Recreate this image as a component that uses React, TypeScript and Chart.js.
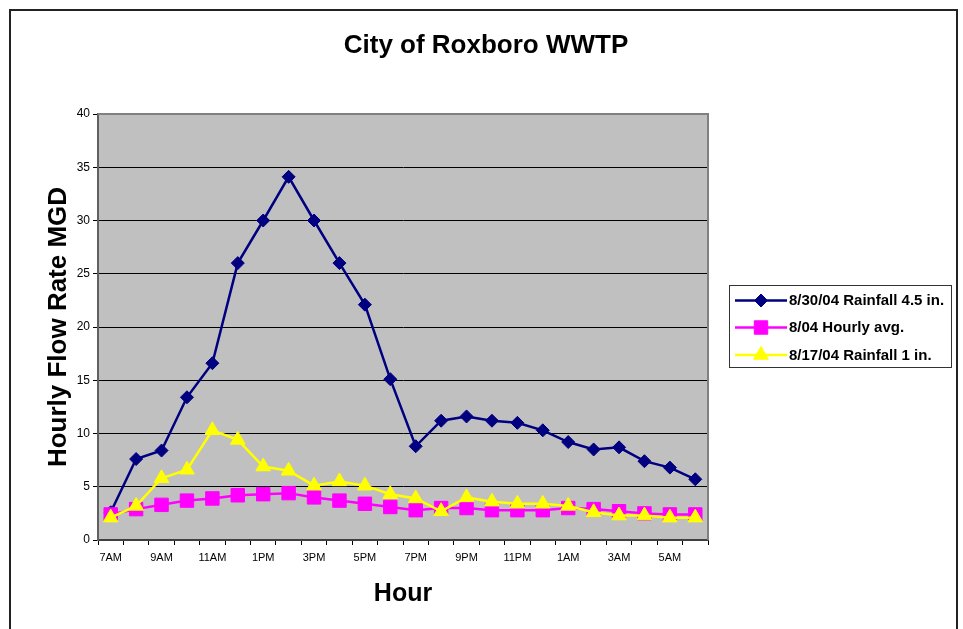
import React, { useEffect, useRef } from 'react';
import { Chart, registerables } from 'chart.js';

Chart.register(...registerables);

// ---- data ----
const hours = ['7AM', '8AM', '9AM', '10AM', '11AM', '12PM', '1PM', '2PM', '3PM', '4PM', '5PM', '6PM',
  '7PM', '8PM', '9PM', '10PM', '11PM', '12AM', '1AM', '2AM', '3AM', '4AM', '5AM', '6AM'];
const shownHourLabels = ['7AM', '9AM', '11AM', '1PM', '3PM', '5PM', '7PM', '9PM', '11PM', '1AM', '3AM', '5AM'];

const rain830 = [2.6, 7.6, 8.4, 13.4, 16.6, 26.0, 30.0, 34.1, 30.0, 26.0, 22.1, 15.1,
  8.8, 11.2, 11.6, 11.2, 11.0, 10.3, 9.2, 8.5, 8.7, 7.4, 6.8, 5.7];
const hourlyAvg = [2.4, 2.9, 3.3, 3.7, 3.9, 4.2, 4.3, 4.4, 4.0, 3.7, 3.4, 3.1,
  2.8, 3.0, 3.0, 2.8, 2.8, 2.8, 3.0, 2.9, 2.7, 2.5, 2.4, 2.4];
const rain817 = [2.1, 3.2, 5.8, 6.6, 10.3, 9.4, 6.9, 6.5, 5.1, 5.5, 5.1, 4.3,
  3.9, 2.7, 4.0, 3.6, 3.4, 3.4, 3.2, 2.6, 2.3, 2.3, 2.1, 2.1];

const seriesLabels = ['8/30/04 Rainfall 4.5 in.', '8/04 Hourly avg.', '8/17/04 Rainfall 1 in.'];
const chartTitle = 'City of Roxboro WWTP';
const yTitle = 'Hourly Flow Rate MGD';
const xTitle = 'Hour';
const yMin = 0;
const yMax = 40;
const yStep = 5;

const FONT = '"Liberation Sans", Arial, Helvetica, sans-serif';

function drawMarker(ctx: CanvasRenderingContext2D, style: string, x: number, y: number, r: number, color: string) {
  ctx.save();
  ctx.fillStyle = color;
  ctx.strokeStyle = color;
  ctx.lineWidth = 1;
  ctx.beginPath();
  if (style === 'rectRot') {
    ctx.moveTo(x, y - r);
    ctx.lineTo(x + r, y);
    ctx.lineTo(x, y + r);
    ctx.lineTo(x - r, y);
  } else if (style === 'rect') {
    const s = Math.SQRT1_2 * r;
    ctx.rect(x - s, y - s, 2 * s, 2 * s);
  } else {
    ctx.moveTo(x, y - r);
    ctx.lineTo(x + Math.sin((2 * Math.PI) / 3) * r, y - Math.cos((2 * Math.PI) / 3) * r);
    ctx.lineTo(x + Math.sin((4 * Math.PI) / 3) * r, y - Math.cos((4 * Math.PI) / 3) * r);
  }
  ctx.closePath();
  ctx.fill();
  ctx.stroke();
  ctx.restore();
}

const decorPlugin = {
  id: 'decor',
  beforeDraw(chart: any) {
    const { ctx, chartArea, width, height } = chart;
    ctx.save();
    ctx.fillStyle = '#ffffff';
    ctx.fillRect(0, 0, width, height);
    // outer frame
    ctx.strokeStyle = '#222222';
    ctx.lineWidth = 2;
    ctx.strokeRect(10, 10, 947, height + 20);
    // plot background
    ctx.fillStyle = '#C0C0C0';
    ctx.fillRect(chartArea.left, chartArea.top, chartArea.right - chartArea.left, chartArea.bottom - chartArea.top);
    ctx.restore();
  },
  beforeDatasetsDraw(chart: any) {
    const { ctx, chartArea } = chart;
    ctx.save();
    ctx.strokeStyle = '#808080';
    ctx.lineWidth = 2;
    ctx.beginPath();
    ctx.moveTo(chartArea.left, chartArea.top);
    ctx.lineTo(chartArea.right, chartArea.top);
    ctx.lineTo(chartArea.right, chartArea.bottom);
    ctx.stroke();
    ctx.restore();
  },
  afterDraw(chart: any) {
    const { ctx } = chart;
    ctx.save();
    // title
    ctx.fillStyle = '#000000';
    ctx.font = `bold 26px ${FONT}`;
    ctx.textAlign = 'center';
    ctx.textBaseline = 'middle';
    ctx.fillText(chartTitle, 486, 46);

    // legend
    const bx = 729, by = 285, bw = 222, bh = 82;
    ctx.fillStyle = '#ffffff';
    ctx.fillRect(bx, by, bw, bh);
    ctx.strokeStyle = '#333333';
    ctx.lineWidth = 1;
    ctx.strokeRect(bx + 0.5, by + 0.5, bw, bh);
    const rows = [300.5, 327.5, 355];
    chart.data.datasets.forEach((ds: any, i: number) => {
      const y = rows[i];
      ctx.strokeStyle = ds.borderColor;
      ctx.lineWidth = ds.borderWidth;
      ctx.beginPath();
      ctx.moveTo(735, y);
      ctx.lineTo(787, y);
      ctx.stroke();
      drawMarker(ctx, ds.pointStyle, 761, y, ds.pointRadius, ds.pointBackgroundColor);
      ctx.fillStyle = '#000000';
      ctx.font = `bold 15px ${FONT}`;
      ctx.textAlign = 'left';
      ctx.textBaseline = 'middle';
      ctx.fillText(ds.label, 789, y + 0.5);
    });
    ctx.restore();
  },
};

export default function App() {
  const ref = useRef<HTMLCanvasElement>(null);

  useEffect(() => {
    if (!ref.current) return;
    Chart.defaults.font.family = FONT;
    Chart.defaults.color = '#000000';
    const chart = new Chart(ref.current, {
      type: 'line',
      data: {
        labels: hours,
        datasets: [
          {
            label: seriesLabels[0],
            data: rain830,
            borderColor: '#000080',
            backgroundColor: '#000080',
            pointBackgroundColor: '#000080',
            pointBorderColor: '#000080',
            borderWidth: 2.5,
            pointStyle: 'rectRot',
            pointRadius: 6.5,
            pointBorderWidth: 1,
            tension: 0,
            order: 2,
          },
          {
            label: seriesLabels[1],
            data: hourlyAvg,
            borderColor: '#FF00FF',
            backgroundColor: '#FF00FF',
            pointBackgroundColor: '#FF00FF',
            pointBorderColor: '#FF00FF',
            borderWidth: 2.5,
            pointStyle: 'rect',
            pointRadius: 9.5,
            pointBorderWidth: 1,
            tension: 0,
            order: 1,
          },
          {
            label: seriesLabels[2],
            data: rain817,
            borderColor: '#FFFF00',
            backgroundColor: '#FFFF00',
            pointBackgroundColor: '#FFFF00',
            pointBorderColor: '#FFFF00',
            borderWidth: 2.5,
            pointStyle: 'triangle',
            pointRadius: 8.5,
            pointBorderWidth: 1,
            tension: 0,
            order: 0,
          },
        ],
      },
      options: {
        animation: false,
        responsive: false,
        maintainAspectRatio: false,
        devicePixelRatio: 1,
        layout: { padding: { left: 0, top: 114, right: 255, bottom: 0 } },
        plugins: {
          legend: { display: false },
          title: { display: false },
          tooltip: { enabled: false },
        },
        scales: {
          x: {
            type: 'category',
            offset: true,
            afterFit: (scale: any) => { scale.height = 89; },
            grid: {
              offset: true,
              drawOnChartArea: false,
              drawTicks: true,
              tickLength: 5,
              color: '#000000',
              tickColor: '#000000',
            },
            border: { display: true, color: '#404040', width: 2 },
            ticks: {
              autoSkip: false,
              maxRotation: 0,
              padding: 6,
              font: { size: 11 },
              color: '#000000',
              callback: function (this: any, value: any) {
                const lbl = this.getLabelForValue(value);
                return shownHourLabels.includes(lbl) ? lbl : '';
              },
            },
            title: {
              display: true,
              text: xTitle,
              font: { size: 25, weight: 'bold' },
              color: '#000000',
              padding: { top: 0, bottom: 20 },
            },
          },
          y: {
            min: yMin,
            max: yMax,
            afterFit: (scale: any) => { scale.width = 98; },
            grid: {
              color: '#000000',
              tickColor: '#000000',
              lineWidth: 1,
              drawTicks: true,
              tickLength: 5,
            },
            border: { display: true, color: '#606060', width: 2 },
            ticks: {
              stepSize: yStep,
              padding: 3,
              font: { size: 12 },
              color: '#000000',
            },
            title: {
              display: true,
              text: yTitle,
              font: { size: 26, weight: 'bold' },
              color: '#000000',
              padding: { top: 43, bottom: 0 },
            },
          },
        },
      },
      plugins: [decorPlugin],
    });
    return () => chart.destroy();
  }, []);

  return (
    <div style={{ position: 'absolute', left: 0, top: 0, width: 963, height: 629 }}>
      <canvas ref={ref} width={963} height={629} style={{ display: 'block' }} />
    </div>
  );
}
